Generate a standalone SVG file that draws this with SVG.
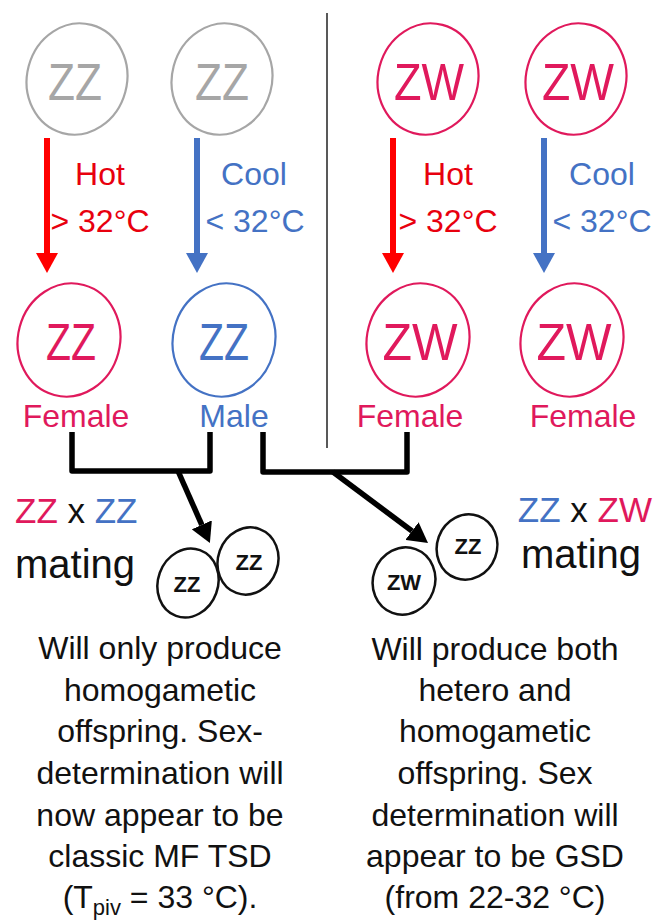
<svg xmlns="http://www.w3.org/2000/svg" width="654" height="920" viewBox="0 0 654 920">
  <defs>
    <style>
      text { font-family: "Liberation Sans", Arial, sans-serif; }
      .big { font-size: 52px; text-anchor: middle; }
      .lab { font-size: 32px; text-anchor: middle; }
      .tmp { font-size: 32px; text-anchor: middle; }
      .body { font-size: 32px; text-anchor: middle; fill: #111; }
      .small { font-size: 22px; font-weight: bold; text-anchor: middle; fill: #111; }
      .gray { fill: #a6a6a6; }
      .pink { fill: #e0195c; }
      .blue { fill: #4472c4; }
      .red { fill: #e8000e; }
      .cell { fill: none; stroke-width: 2.2; }
      .s-gray { stroke: #a6a6a6; }
      .s-pink { stroke: #e0195c; }
      .s-blue { stroke: #4472c4; }
      .egg { fill: none; stroke: #111; stroke-width: 2.5; }
      .arr { fill: none; stroke-width: 6; }
      .pair { fill: none; stroke: #000; stroke-width: 5.5; stroke-linejoin: round; }
    </style>
    <marker id="headRed" viewBox="0 0 20 22" refX="0" refY="11" markerWidth="20" markerHeight="22" markerUnits="userSpaceOnUse" orient="auto">
      <path d="M0,0 L20,11 L0,22 z" fill="#ff0000"/>
    </marker>
    <marker id="headBlue" viewBox="0 0 20 22" refX="0" refY="11" markerWidth="20" markerHeight="22" markerUnits="userSpaceOnUse" orient="auto">
      <path d="M0,0 L20,11 L0,22 z" fill="#4472c4"/>
    </marker>
    <marker id="headBlack" viewBox="0 0 20 22" refX="0" refY="11" markerWidth="20" markerHeight="22" markerUnits="userSpaceOnUse" orient="auto">
      <path d="M0,0 L20,11 L0,22 z" fill="#000"/>
    </marker>
  </defs>

  <rect width="654" height="920" fill="#ffffff"/>

  <!-- divider between the two scenarios -->
  <line x1="327" y1="13" x2="327" y2="448" stroke="#595959" stroke-width="2"/>

  <!-- parental genotypes -->
  <g id="zz-parent-1">
    <ellipse class="cell s-gray" cx="77" cy="79" rx="50" ry="56" transform="rotate(15 77 79)"/>
    <text class="big gray" x="75" y="100" textLength="54" lengthAdjust="spacingAndGlyphs">ZZ</text>
  </g>
  <g id="zz-parent-2">
    <ellipse class="cell s-gray" cx="222" cy="79" rx="50" ry="56" transform="rotate(15 222 79)"/>
    <text class="big gray" x="222" y="100" textLength="54" lengthAdjust="spacingAndGlyphs">ZZ</text>
  </g>
  <g id="zw-parent-1">
    <ellipse class="cell s-pink" cx="428" cy="79" rx="50" ry="56" transform="rotate(15 428 79)"/>
    <text class="big pink" x="429" y="100" textLength="70" lengthAdjust="spacingAndGlyphs">ZW</text>
  </g>
  <g id="zw-parent-2">
    <ellipse class="cell s-pink" cx="576" cy="79" rx="50" ry="56" transform="rotate(15 576 79)"/>
    <text class="big pink" x="578" y="100" textLength="72" lengthAdjust="spacingAndGlyphs">ZW</text>
  </g>

  <!-- incubation temperature labels -->
  <g id="hot-1">
    <text class="tmp red" x="100" y="185">Hot</text>
    <text class="tmp red" x="100" y="232">&gt; 32°C</text>
  </g>
  <g id="cool-1">
    <text class="tmp blue" x="254" y="185">Cool</text>
    <text class="tmp blue" x="255" y="232">&lt; 32°C</text>
  </g>
  <g id="hot-2">
    <text class="tmp red" x="448" y="185">Hot</text>
    <text class="tmp red" x="448" y="232">&gt; 32°C</text>
  </g>
  <g id="cool-2">
    <text class="tmp blue" x="602" y="185">Cool</text>
    <text class="tmp blue" x="602" y="232">&lt; 32°C</text>
  </g>

  <!-- resulting phenotypes -->
  <g id="zz-female">
    <ellipse class="cell s-pink" cx="69" cy="340" rx="51" ry="57" transform="rotate(15 69 340)"/>
    <text class="big pink" x="71" y="360" textLength="50" lengthAdjust="spacingAndGlyphs">ZZ</text>
    <text class="lab pink" x="76" y="427">Female</text>
  </g>
  <g id="zz-male">
    <ellipse class="cell s-blue" cx="224" cy="340" rx="51" ry="57" transform="rotate(15 224 340)"/>
    <text class="big blue" x="224" y="360" textLength="50" lengthAdjust="spacingAndGlyphs">ZZ</text>
    <text class="lab blue" x="234" y="427">Male</text>
  </g>
  <g id="zw-female-1">
    <ellipse class="cell s-pink" cx="418" cy="340" rx="51" ry="57" transform="rotate(15 418 340)"/>
    <text class="big pink" x="420" y="360" textLength="75" lengthAdjust="spacingAndGlyphs">ZW</text>
    <text class="lab pink" x="410" y="427">Female</text>
  </g>
  <g id="zw-female-2">
    <ellipse class="cell s-pink" cx="572" cy="340" rx="51" ry="57" transform="rotate(15 572 340)"/>
    <text class="big pink" x="574" y="360" textLength="75" lengthAdjust="spacingAndGlyphs">ZW</text>
    <text class="lab pink" x="583" y="427">Female</text>
  </g>

  <!-- crosses -->
  <g id="cross-zz-zz">
    <text x="15" y="523" font-size="35"><tspan class="pink">ZZ</tspan><tspan fill="#111"> x </tspan><tspan class="blue">ZZ</tspan></text>
    <text x="15" y="578" font-size="40" fill="#111">mating</text>
  </g>
  <g id="cross-zz-zw">
    <text x="652" y="522" font-size="35" text-anchor="end"><tspan class="blue">ZZ</tspan><tspan fill="#111"> x </tspan><tspan class="pink">ZW</tspan></text>
    <text x="581" y="568" font-size="40" fill="#111" text-anchor="middle">mating</text>
  </g>

  <!-- offspring -->
  <g id="offspring-left">
    <ellipse class="egg" cx="188" cy="583" rx="30" ry="35" transform="rotate(20 188 583)"/>
    <text class="small" x="187" y="592">ZZ</text>
    <ellipse class="egg" cx="248" cy="561" rx="30" ry="34" transform="rotate(20 248 561)"/>
    <text class="small" x="249" y="570">ZZ</text>
  </g>
  <g id="offspring-right">
    <ellipse class="egg" cx="404" cy="581" rx="31" ry="34" transform="rotate(20 404 581)"/>
    <text class="small" x="404" y="590">ZW</text>
    <ellipse class="egg" cx="467" cy="547" rx="30" ry="33" transform="rotate(20 467 547)"/>
    <text class="small" x="468" y="554">ZZ</text>
  </g>

  <!-- conclusions -->
  <g id="note-left">
    <text class="body" x="160" y="659">Will only produce</text>
    <text class="body" x="160" y="701">homogametic</text>
    <text class="body" x="160" y="742">offspring. Sex-</text>
    <text class="body" x="160" y="784">determination will</text>
    <text class="body" x="160" y="826">now appear to be</text>
    <text class="body" x="160" y="867">classic MF TSD</text>
    <text class="body" x="160" y="908">(T<tspan font-size="22" dy="7">piv</tspan><tspan dy="-7"> = 33 °C).</tspan></text>
  </g>
  <g id="note-right">
    <text class="body" x="495" y="660">Will produce both</text>
    <text class="body" x="495" y="701">hetero and</text>
    <text class="body" x="495" y="742">homogametic</text>
    <text class="body" x="495" y="784">offspring. Sex</text>
    <text class="body" x="495" y="826">determination will</text>
    <text class="body" x="495" y="867">appear to be GSD</text>
    <text class="body" x="495" y="908">(from 22-32 °C)</text>
  </g>

  <!-- connectors -->
  <g id="connectors">
    <line class="arr" x1="47" y1="138" x2="47" y2="253" stroke="#ff0000" marker-end="url(#headRed)"/>
    <line class="arr" x1="197" y1="138" x2="197" y2="253" stroke="#4472c4" marker-end="url(#headBlue)"/>
    <line class="arr" x1="393" y1="138" x2="393" y2="253" stroke="#ff0000" marker-end="url(#headRed)"/>
    <line class="arr" x1="544" y1="138" x2="544" y2="253" stroke="#4472c4" marker-end="url(#headBlue)"/>

    <path class="pair" d="M72,432 V471 H210 V432"/>
    <line x1="178" y1="471" x2="201.8" y2="524.8" stroke="#000" stroke-width="5.5" marker-end="url(#headBlack)"/>
    <path class="pair" d="M263,432 V472 H407 V432"/>
    <line x1="333" y1="472" x2="412" y2="531" stroke="#000" stroke-width="5.5" marker-end="url(#headBlack)"/>
  </g>
</svg>
